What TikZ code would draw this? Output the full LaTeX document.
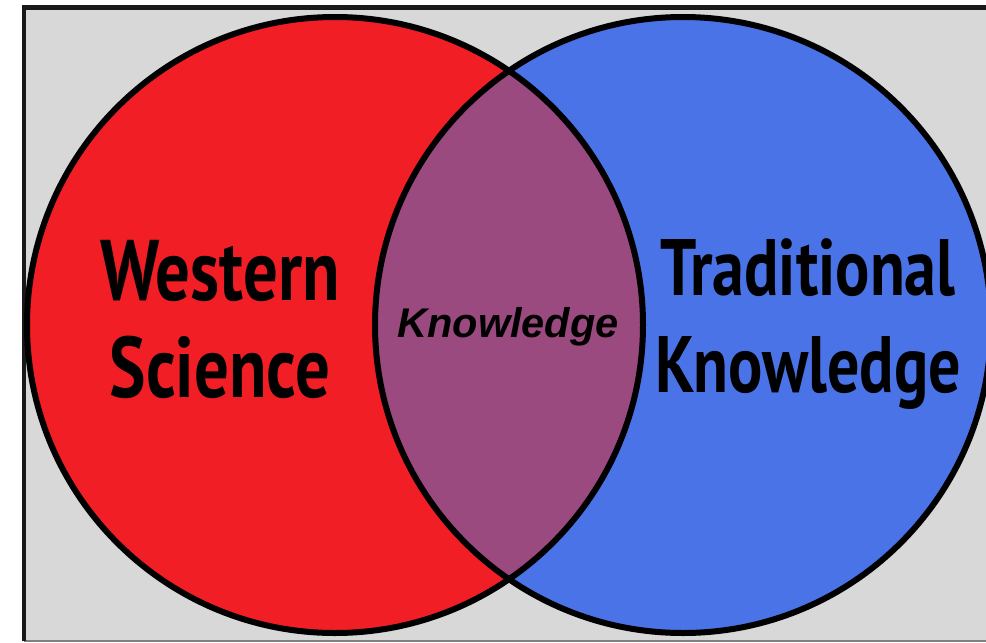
\documentclass[tikz,border=0pt]{standalone}
\usepackage{fontspec}
\usepackage{tikz}
\newfontfamily\narrowfont[FakeStretch=0.80]{PT Sans}
\newfontfamily\arialfont{Liberation Sans}
\definecolor{westernred}{RGB}{242,30,38}
\definecolor{tradblue}{RGB}{74,115,232}
\definecolor{overlappurple}{RGB}{154,74,126}
\definecolor{backgray}{RGB}{216,216,216}
\tikzset{
  circleline/.style={draw=black, line width=6pt},
  bigtext/.style={align=center, anchor=base, inner sep=0pt},
  midtext/.style={anchor=base, inner sep=0pt, font=\arialfont\bfseries\itshape\fontsize{41.5}{44}\selectfont}
}

\begin{document}
\begin{tikzpicture}[x=1pt, y=-1pt]

\newcommand\R{308}

\useasboundingbox (0,0) rectangle (986,643);

%% background
\fill[backgray] (24,8) rectangle (990,641);
\draw[gray, line width=1.5pt] (24,641) -- (990,641);
\draw[black!90, line width=4.5pt] (24,641) -- (24,7.5) -- (990,7.5);

%% circles
\fill[westernred] (335,325) circle[radius=\R];
\fill[tradblue] (683,325) circle[radius=\R];
\begin{scope}
\clip (335,325) circle[radius=\R];
\fill[overlappurple] (683,325) circle[radius=\R];
\end{scope}
\draw[circleline] (335,325) circle[radius=\R];
\draw[circleline] (683,325) circle[radius=\R];

%% labels (base = last line)
\node[bigtext, font=\narrowfont\bfseries\fontsize{86}{97}\selectfont]
  (western) at (220,397) {Western\\Science};
\node[bigtext, font=\narrowfont\bfseries\fontsize{80}{97}\selectfont]
  (traditional) at (808,392) {Traditional\\Knowledge};
\node[midtext] (knowledge) at (508,337) {Knowledge};

\end{tikzpicture}
\end{document}
